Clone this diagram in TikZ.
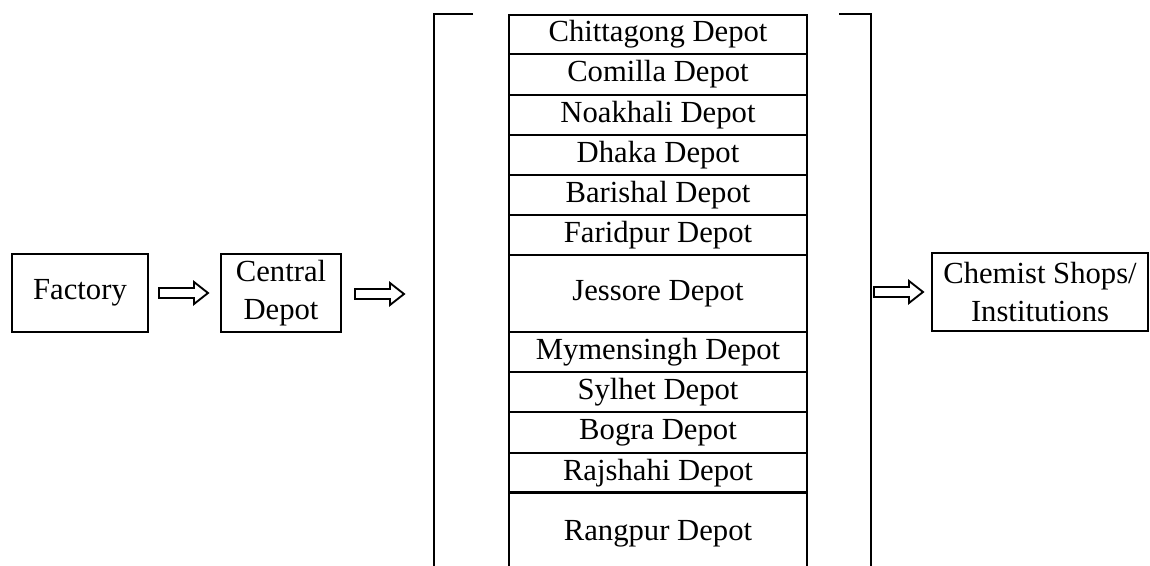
\documentclass[tikz,border=0pt]{standalone}
\usepackage{fontspec}
\setmainfont{Liberation Serif}
\begin{document}
\begin{tikzpicture}[x=0.75pt,y=-0.75pt,
  box/.style={draw, line width=1.5pt, inner sep=0pt, align=center,
    font=\fontsize{23}{28}\selectfont},
  cell/.style={draw, line width=1.5pt, inner sep=0pt, anchor=north,
    minimum width=298*0.75pt, font=\fontsize{23}{28}\selectfont},
  harrow/.pic={\draw[line width=1.4pt, line join=miter]
     (0,-5) -- (35,-5) -- (35,-11) -- (49,0) -- (35,11) -- (35,5) -- (0,5) -- cycle;},
  bracket/.style={line width=1.5pt}]
\useasboundingbox (0,0) rectangle (1150,566);
% boxes
\node[box, minimum width=136*0.75pt, minimum height=78*0.75pt] (fact) at (80,293) {Factory};
\node[box, minimum width=120*0.75pt, minimum height=78*0.75pt] (cent) at (281,293) {Central\\Depot};
\node[box, minimum width=216*0.75pt, minimum height=78*0.75pt] (chem) at (1040,292) {Chemist Shops/\\Institutions};
% depot column
\node[cell, minimum height=39*0.75pt] (d1) at (658,14) {Chittagong Depot};
\node[cell, minimum height=41*0.75pt] (d2) at (658,53) {Comilla Depot};
\node[cell, minimum height=40*0.75pt] (d3) at (658,94) {Noakhali Depot};
\node[cell, minimum height=40*0.75pt] (d4) at (658,134) {Dhaka Depot};
\node[cell, minimum height=40*0.75pt] (d5) at (658,174) {Barishal Depot};
\node[cell, minimum height=40*0.75pt] (d6) at (658,214) {Faridpur Depot};
\node[cell, minimum height=77*0.75pt] (d7) at (658,254) {Jessore Depot};
\node[cell, minimum height=40*0.75pt] (d8) at (658,331) {Mymensingh Depot};
\node[cell, minimum height=40*0.75pt] (d9) at (658,371) {Sylhet Depot};
\node[cell, minimum height=41*0.75pt] (d10) at (658,411) {Bogra Depot};
\node[cell, minimum height=40*0.75pt] (d11) at (658,452) {Rajshahi Depot};
\node[cell, draw=none, minimum height=82*0.75pt] (d12) at (658,492) {Rangpur Depot};
\draw[line width=1.5pt] (509,566) -- (509,492) -- (807,492) -- (807,566);
% brackets
\draw[bracket] (473,14) -- (434,14) -- (434,566);
\draw[bracket] (839,14) -- (871,14) -- (871,566);
\coordinate (lbr) at (434,293);
\coordinate (rbr) at (871,292);
% arrows
\path (fact.east) ++(10,0) pic {harrow};
\path (cent.east) ++(13,1) pic {harrow};
\path (rbr) ++(3,0) pic {harrow};
\end{tikzpicture}
\end{document}
